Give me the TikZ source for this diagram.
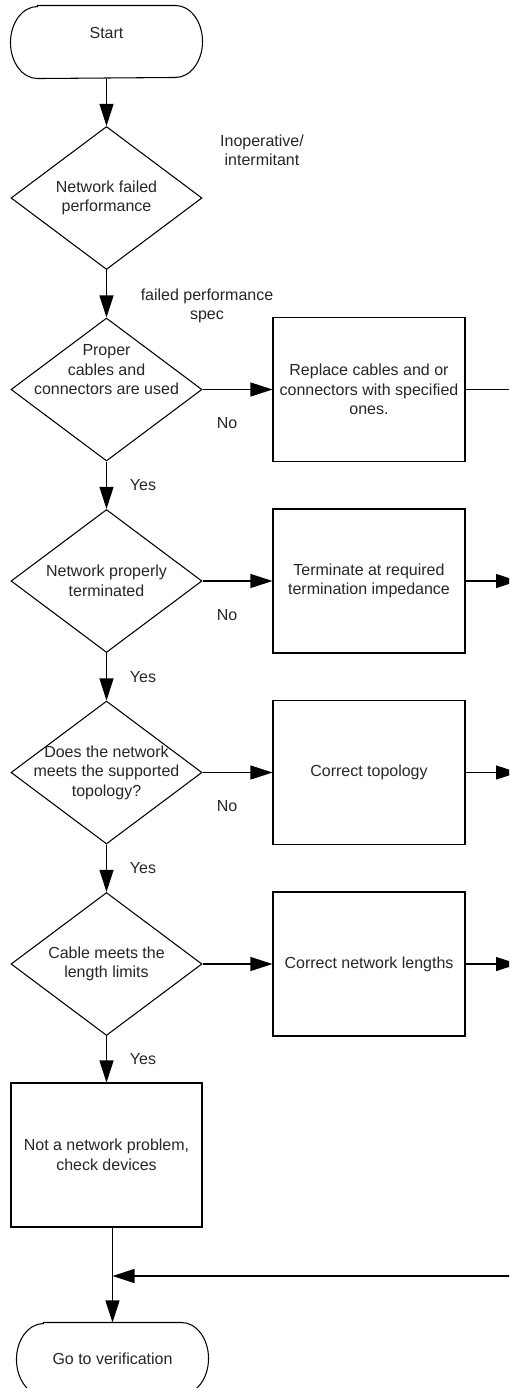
\documentclass[tikz,border=0pt]{standalone}
\usepackage{fontspec}
\setmainfont{Liberation Sans}
\usetikzlibrary{positioning,calc}
\usetikzlibrary{arrows.meta,shapes.geometric}
\tikzset{
	term/.style={rectangle,minimum width=3.82cm,minimum height=1.44cm,inner sep=0pt},
	decision/.style={diamond,draw,minimum width=3.82cm,minimum height=2.86cm,inner sep=0pt},
	action/.style={rectangle,draw,minimum width=3.84cm,minimum height=2.88cm,align=center,inner sep=2pt},
	flow/.style={draw,-{Triangle[length=0.44cm,width=0.28cm]}},
	note/.style={align=center},
	every label/.style={align=center},
}

\begin{document}
\begin{tikzpicture}[line width=0.6pt,text=black!85,font=\fontsize{9.1}{11.1}\selectfont]
	\useasboundingbox (0,0) rectangle (10.18,-27.76);
	\clip (0,0) rectangle (10.18,-27.76);
	% main column
	\node[term,label={[yshift=0.18cm]center:Start}] (start) at (2.13,-0.84) {};
	\node[decision,label={center:{Network failed\\performance}}] (d1) at (2.13,-3.96) {};
	\node[decision,label={[yshift=0.39cm]center:{Proper\\cables and\\connectors are used}}] (d2) at (2.13,-7.79) {};
	\node[decision,label={center:{Network properly\\terminated}}] (d3) at (2.13,-11.62) {};
	\node[decision,label={center:{Does the network\\meets the supported\\topology?}}] (d4) at (2.13,-15.45) {};
	\node[decision,label={center:{Cable meets the\\length limits}}] (d5) at (2.13,-19.28) {};
	\node[action,minimum width=3.82cm] (b5) at (2.13,-23.10) {Not a network problem,\\check devices};
	\node[term] (verify) at (2.25,-27.18) {Go to verification};
	% corrective actions
	\node[action] (b1) at (7.38,-7.79) {Replace cables and or\\connectors with specified\\ones.};
	\node[action] (b2) at (7.38,-11.62) {Terminate at required\\termination impedance};
	\node[action] (b3) at (7.38,-15.45) {Correct topology};
	\node[action] (b4) at (7.38,-19.28) {Correct network lengths};
	% side notes
	\node[note] (n1) at (5.24,-3.01) {Inoperative/\\intermitant};
	\node[note] (n2) at (4.14,-6.12) {failed performance\\spec};
	% terminal outlines
	\foreach \t in {start,verify}
		\draw ([xshift=0.54cm]\t.north west) -- ([xshift=-0.54cm]\t.north east)
			arc[start angle=90,end angle=-90,x radius=0.54cm,y radius=0.72cm]
			-- ([xshift=0.54cm]\t.south west)
			arc[start angle=270,end angle=90,x radius=0.54cm,y radius=0.72cm] -- cycle;
	% flow down
	\draw[flow] (start) -- (d1);
	\draw[flow] (d1) -- (d2);
	\draw[flow] (d2) -- node[xshift=0.73cm]{Yes} (d3);
	\draw[flow] (d3) -- node[xshift=0.73cm]{Yes} (d4);
	\draw[flow] (d4) -- node[xshift=0.73cm]{Yes} (d5);
	\draw[flow] (d5) -- node[xshift=0.73cm]{Yes} (b5);
	\draw[flow] (b5.south -| verify.north) -- (verify);
	% no branches
	\draw[flow] (d2) -- node[pos=0.35,yshift=-0.68cm]{No} (b1);
	\draw[flow] (d3) -- node[pos=0.35,yshift=-0.68cm]{No} (b2);
	\draw[flow] (d4) -- node[pos=0.35,yshift=-0.68cm]{No} (b3);
	\draw[flow] (d5) -- (b4);
	% return rail
	\coordinate (rail) at (10.36,0);
	\coordinate (merge) at (2.25,-25.52);
	\draw[flow] (b1.east) -- (b1.east -| rail) -- (rail |- merge) -- (merge);
	\draw[flow] (b2) -- (b2 -| rail);
	\draw[flow] (b3) -- (b3 -| rail);
	\draw[flow] (b4) -- (b4 -| rail);
\end{tikzpicture}
\end{document}
